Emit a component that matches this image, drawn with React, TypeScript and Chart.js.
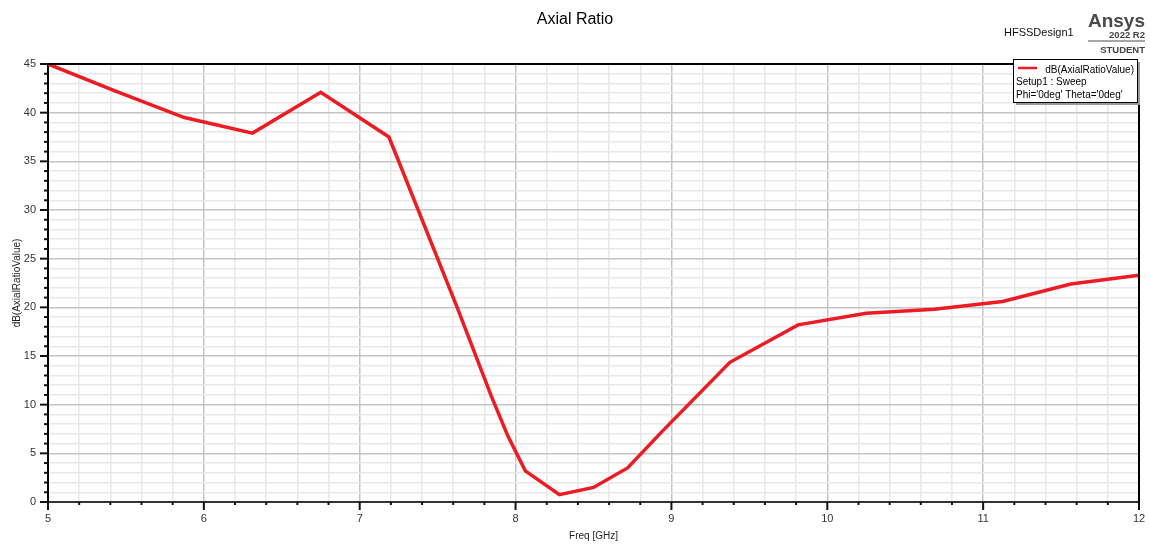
import React, { useEffect, useRef } from "react";
import { Chart, registerables } from "chart.js";

Chart.register(...registerables);

const freqs = [5, 5.4375, 5.875, 6.3125, 6.75, 7.1875, 7.625, 7.84375, 7.95, 8.0625, 8.28125, 8.5, 8.71875, 8.9375, 9.375, 9.8125, 10.25, 10.6875, 11.125, 11.5625, 12];
const axialRatio = [45, 42.2, 39.5, 37.9, 42.1, 37.5, 20.0, 10.9, 6.8, 3.2, 0.75, 1.5, 3.5, 7.2, 14.35, 18.2, 19.4, 19.8, 20.6, 22.4, 23.3];

const xMin = 5;
const xMax = 12;
const yMin = 0;
const yMax = 45;

const titleText = "Axial Ratio";
const xTitle = "Freq [GHz]";
const yTitle = "dB(AxialRatioValue)";
const legendLines = ["dB(AxialRatioValue)", "Setup1 : Sweep", "Phi='0deg' Theta='0deg'"];

const isIntX = (v: number) => Math.abs(v - Math.round(v)) < 1e-6;
const isMajY = (v: number) => Math.abs(v / 5 - Math.round(v / 5)) < 1e-6;

const decor = {
  id: "decor",
  afterDatasetsDraw(chart: any) {
    const { ctx, chartArea } = chart;
    const { left, right, top, bottom } = chartArea;
    const xs = chart.scales.x;
    const ys = chart.scales.y;
    ctx.save();
    ctx.strokeStyle = "#000";
    ctx.lineWidth = 2;
    ctx.beginPath();
    ctx.moveTo(left, top);
    ctx.lineTo(right, top);
    ctx.moveTo(right, top);
    ctx.lineTo(right, bottom);
    ctx.stroke();
    ctx.lineWidth = 2;
    ctx.strokeStyle = "#111";
    ys.ticks.forEach((t: any) => {
      const y = ys.getPixelForValue(t.value);
      const len = isMajY(t.value) ? 8 : 4;
      ctx.beginPath();
      ctx.moveTo(left - len, y);
      ctx.lineTo(left, y);
      ctx.stroke();
    });
    xs.ticks.forEach((t: any) => {
      const x = xs.getPixelForValue(t.value);
      const len = isIntX(t.value) ? 8 : 3;
      ctx.beginPath();
      ctx.moveTo(x, bottom);
      ctx.lineTo(x, bottom + len);
      ctx.stroke();
    });
    ctx.restore();
  },
  afterDraw(chart: any) {
    const { ctx, chartArea } = chart;
    const { left, right, top, bottom } = chartArea;
    ctx.save();
    ctx.fillStyle = "#000";
    ctx.textBaseline = "alphabetic";
    ctx.font = "16px Arial, 'Liberation Sans', sans-serif";
    ctx.textAlign = "center";
    ctx.fillText(titleText, 575, 24);
    ctx.font = "10px Arial, 'Liberation Sans', sans-serif";
    ctx.fillStyle = "#222";
    ctx.fillText(xTitle, (left + right) / 2, 539);
    ctx.save();
    ctx.translate(20, (top + bottom) / 2);
    ctx.rotate(-Math.PI / 2);
    ctx.fillText(yTitle, 0, 0);
    ctx.restore();
    ctx.fillStyle = "#111";
    ctx.textAlign = "left";
    ctx.font = "11px Arial, 'Liberation Sans', sans-serif";
    ctx.fillText("HFSSDesign1", 1004, 36);
    ctx.fillStyle = "#4a4a4a";
    ctx.textAlign = "right";
    ctx.font = "bold 19px Arial, 'Liberation Sans', sans-serif";
    ctx.fillText("Ansys", 1145, 27);
    ctx.fillStyle = "#444";
    ctx.font = "bold 9.5px Arial, 'Liberation Sans', sans-serif";
    ctx.fillText("2022 R2", 1145, 38);
    ctx.fillText("STUDENT", 1145, 53);
    ctx.strokeStyle = "#888";
    ctx.lineWidth = 1.5;
    ctx.beginPath();
    ctx.moveTo(1088, 41);
    ctx.lineTo(1145, 41);
    ctx.stroke();
    const lx = 1013, ly = 59, lw = 124, lh = 43;
    ctx.fillStyle = "#9a9a9a";
    ctx.fillRect(lx + 3, ly + 3, lw, lh);
    ctx.fillStyle = "#fff";
    ctx.fillRect(lx, ly, lw, lh);
    ctx.strokeStyle = "#000";
    ctx.lineWidth = 1;
    ctx.strokeRect(lx + 0.5, ly + 0.5, lw, lh);
    ctx.strokeStyle = "#ed1c24";
    ctx.lineWidth = 2.5;
    ctx.beginPath();
    ctx.moveTo(1018, 68);
    ctx.lineTo(1037, 68);
    ctx.stroke();
    ctx.fillStyle = "#000";
    ctx.font = "10px Arial, 'Liberation Sans', sans-serif";
    ctx.textAlign = "right";
    ctx.fillText(legendLines[0], 1134, 73);
    ctx.textAlign = "left";
    ctx.fillText(legendLines[1], 1016, 85);
    ctx.fillText(legendLines[2], 1016, 98);
    ctx.restore();
  },
};

export default function App() {
  const ref = useRef<HTMLCanvasElement | null>(null);
  useEffect(() => {
    if (!ref.current) return;
    const chart = new Chart(ref.current, {
      type: "line",
      data: {
        datasets: [
          {
            data: freqs.map((f, i) => ({ x: f, y: axialRatio[i] })),
            borderColor: "#ed1c24",
            borderWidth: 3.5,
            pointRadius: 0,
            tension: 0,
            fill: false,
          },
        ],
      },
      options: {
        responsive: false,
        animation: false,
        layout: { padding: { left: 0, right: 0, top: 64, bottom: 0 } },
        plugins: { legend: { display: false }, tooltip: { enabled: false }, title: { display: false } },
        scales: {
          x: {
            type: "linear",
            min: xMin,
            max: xMax,
            afterFit: (s: any) => {
              s.height = 42;
              s.paddingLeft = 0;
              s.paddingRight = 11;
            },
            ticks: {
              stepSize: 0.2,
              autoSkip: false,
              maxRotation: 0,
              padding: 10,
              color: "#333",
              font: { family: "Arial, 'Liberation Sans', sans-serif", size: 11 },
              callback: (v: any) => (isIntX(Number(v)) ? String(Math.round(Number(v))) : ""),
            },
            grid: {
              drawTicks: false,
              lineWidth: 1.5,
              color: (c: any) => (c.tick && isIntX(c.tick.value) ? "#c4c4c4" : "#e8e8e8"),
            },
            border: { display: true, color: "#333", width: 2 },
          },
          y: {
            type: "linear",
            min: yMin,
            max: yMax,
            afterFit: (s: any) => {
              s.width = 48;
            },
            ticks: {
              stepSize: 1,
              autoSkip: false,
              padding: 12,
              color: "#333",
              font: { family: "Arial, 'Liberation Sans', sans-serif", size: 11 },
              callback: (v: any) => (isMajY(Number(v)) ? String(Math.round(Number(v))) : ""),
            },
            grid: {
              drawTicks: false,
              lineWidth: 1.5,
              color: (c: any) => (c.tick && isMajY(c.tick.value) ? "#c4c4c4" : "#e8e8e8"),
            },
            border: { display: true, color: "#000", width: 2 },
          },
        },
      },
      plugins: [decor],
    });
    return () => chart.destroy();
  }, []);
  return (
    <div style={{ position: "fixed", left: 0, top: 0, width: 1150, height: 544, background: "#fff" }}>
      <canvas ref={ref} width={1150} height={544} style={{ display: "block" }} />
    </div>
  );
}
